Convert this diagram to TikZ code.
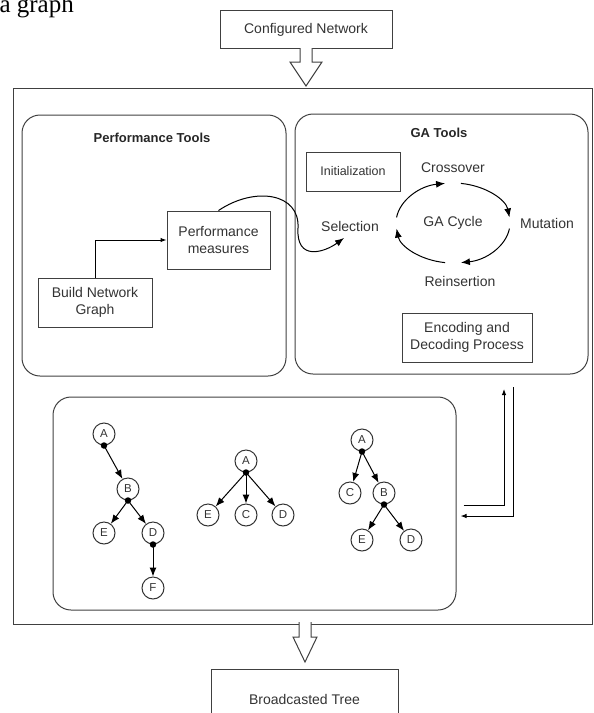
\documentclass[tikz,border=0pt]{standalone}
\usepackage{fontspec}
\setmainfont{Liberation Sans}
\newfontfamily\pagefont{Liberation Serif}
\usetikzlibrary{arrows.meta}

\tikzset{
  blk/.style={draw=black!75, inner sep=0pt, align=center, text=black!80,
    font=\fontsize{14}{17}\selectfont},
  panel/.style={draw=black!75, rounded corners=18pt, inner sep=0pt},
  ttl/.style={text=black!85, font=\bfseries\fontsize{13}{15}\selectfont},
  lbl/.style={text=black!80, font=\fontsize{14}{16}\selectfont},
  vtx/.style={draw=black!80, circle, minimum size=22pt, inner sep=0pt,
    text=black!80, font=\fontsize{11.5}{12}\selectfont},
  dot/.style={fill=black, circle, inner sep=0pt, minimum size=6.5pt},
  tri/.style={-{Latex[length=9pt,width=7pt]}},
  arr/.style={-{Latex[length=6pt,width=4.5pt]}},
}

\begin{document}
\begin{tikzpicture}[x=1pt,y=-1pt,line width=1pt]
\useasboundingbox (0,0) rectangle (594,713);

% text of the page above
\node[anchor=base west, inner sep=0pt, font=\pagefont\fontsize{25}{25}\selectfont] (pg) at (-1,12) {a graph};

% input and output
\node[blk, minimum width=172pt, minimum height=38pt] (cfg) at (306,29.5) {Configured Network};
\node[blk, minimum width=187pt, minimum height=60pt] (bcast) at (304.5,699) {Broadcasted Tree};

% main frame and panels
\node[draw=black!75, minimum width=579pt, minimum height=536pt, inner sep=0pt] (main) at (302.5,356) {};
\node[panel, minimum width=264pt, minimum height=261pt] (perf) at (154,245.5) {};
\node[panel, minimum width=293pt, minimum height=260pt] (ga) at (441.5,244) {};
\node[panel, minimum width=403pt, minimum height=213pt] (trees) at (254.5,503.5) {};

% hollow arrows
\filldraw[draw=black!75, fill=white] ([yshift=1pt]cfg.south) ++(-6,0) -- ++(0,14) -- ++(-10,0)
  -- ++(16,24) -- ++(16,-24) -- ++(-10,0) -- ++(0,-14);
\filldraw[draw=black!75, fill=white] (305,622) ++(-6,0) -- ++(0,15) -- ++(-6,0)
  -- ++(12,25) -- ++(12,-25) -- ++(-6,0) -- ++(0,-15);

% performance tools
\node[ttl] (perft) at (152,138) {Performance Tools};
\node[blk, minimum width=114pt, minimum height=49pt] (build) at (95,302.5) {Build Network\\Graph};
\node[blk, minimum width=103pt, minimum height=58pt] (perfm) at (218.5,240) {Performance\\measures};
\draw[arr] (build.north) |- (perfm.west);

% GA tools
\node[ttl] (gat) at (439,133) {GA Tools};
\node[blk, minimum width=94pt, minimum height=39pt, font=\fontsize{12.5}{15}\selectfont] (init) at (353,171.5) {Initialization};
\node[blk, minimum width=130pt, minimum height=49pt] (enc) at (467,337.5) {Encoding and\\Decoding Process};
\node[lbl] (cyc) at (453,223) {GA Cycle};
\node[lbl] (cross) at (453,168) {Crossover};
\node[lbl] (mut) at (547,223) {Mutation};
\node[lbl] (sel) at (350,226) {Selection};
\node[lbl] (reins) at (460,281) {Reinsertion};
\foreach \s/\e in {8/82, 98/172, 188/262, 278/352}
  \draw[tri] ([shift={(\s:57 and 40)}]cyc.center) arc[start angle=\s, end angle=\e, x radius=57, y radius=40];

\draw[tri] (perfm.north) .. controls (255,186) and (300,193) .. (298,228)
  .. controls (296,262) and (325,252) .. ([xshift=-6pt,yshift=-3pt]sel.south);

% trees
\node[vtx] (a1) at (104,434) {A};
\node[vtx] (b1) at (128,489) {B};
\node[vtx] (e1) at (104,533) {E};
\node[vtx] (d1) at (153,533) {D};
\node[vtx] (f1) at (153,588) {F};
\node[dot] (a1d) at (a1.south) {};
\node[dot] (b1d) at (b1.south) {};
\node[dot] (d1d) at (d1.south) {};
\draw[tri] (a1d.center) -- (b1);
\draw[tri] (b1d.center) -- (e1);
\draw[tri] (b1d.center) -- (d1);
\draw[tri] (d1d.center) -- (f1);

\node[vtx] (a2) at (246,461) {A};
\node[vtx] (e2) at (208,515) {E};
\node[vtx] (c2) at (246,515) {C};
\node[vtx] (d2) at (283,515) {D};
\node[dot] (a2d) at (a2.south) {};
\foreach \n in {e2,c2,d2}
  \draw[tri] (a2d.center) -- (\n);

\node[vtx] (a3) at (362,440) {A};
\node[vtx] (c3) at (350,493) {C};
\node[vtx] (b3) at (384,493) {B};
\node[vtx] (e3) at (362,540) {E};
\node[vtx] (d3) at (411,540) {D};
\node[dot] (a3d) at (a3.south) {};
\node[dot] (b3d) at (b3.south) {};
\draw[tri] (a3d.center) -- (c3);
\draw[tri] (a3d.center) -- (b3);
\draw[tri] (b3d.center) -- (e3);
\draw[tri] (b3d.center) -- (d3);

% trees <-> GA tools
\coordinate (gain) at (504,389);
\coordinate (gaout) at (513,387);
\draw[arr] ([xshift=7pt,yshift=-1.5pt]trees.east) -| (gain);
\draw[arr] (gaout) |- ([xshift=4pt,yshift=-12.5pt]trees.east);
\end{tikzpicture}
\end{document}
